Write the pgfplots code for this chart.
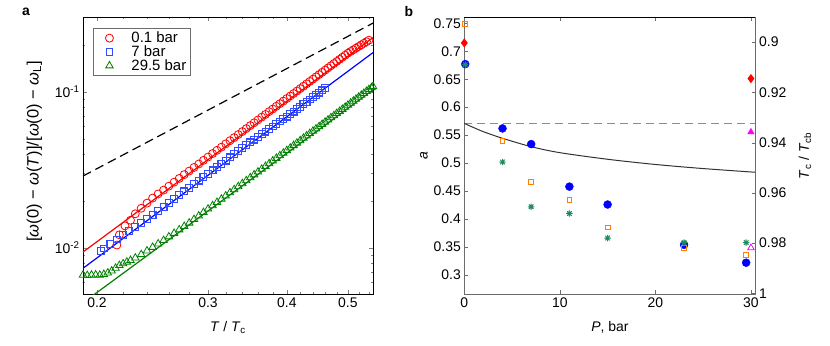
\documentclass[border=0pt]{standalone}
\usepackage{pgfplots}
\pgfplotsset{compat=1.18}
\usepackage{fontspec}
\setmainfont{Liberation Sans}

\definecolor{mgreen}{rgb}{0,0.5,0}
\definecolor{mblue}{rgb}{0,0,1}
\definecolor{sqblue}{rgb}{0.2,0.3,1}
\definecolor{morange}{rgb}{1,0.5,0}
\definecolor{mteal}{rgb}{0.12,0.54,0.36}
\definecolor{mmag}{rgb}{1,0,1}
\definecolor{axgray}{gray}{0.42}

\newcommand{\tfont}{\fontsize{14}{16}\selectfont}

% eight-armed asterisk, as in the source figure
\pgfdeclareplotmark{ast8}{%
  \pgfpathmoveto{\pgfqpoint{-\pgfplotmarksize}{0pt}}\pgfpathlineto{\pgfqpoint{\pgfplotmarksize}{0pt}}%
  \pgfpathmoveto{\pgfqpoint{0pt}{-\pgfplotmarksize}}\pgfpathlineto{\pgfqpoint{0pt}{\pgfplotmarksize}}%
  \pgfpathmoveto{\pgfqpoint{-.707\pgfplotmarksize}{-.707\pgfplotmarksize}}\pgfpathlineto{\pgfqpoint{.707\pgfplotmarksize}{.707\pgfplotmarksize}}%
  \pgfpathmoveto{\pgfqpoint{-.707\pgfplotmarksize}{.707\pgfplotmarksize}}\pgfpathlineto{\pgfqpoint{.707\pgfplotmarksize}{-.707\pgfplotmarksize}}%
  \pgfusepathqstroke}

\pgfplotsset{
  every axis/.append style={
    scale only axis,
    tick label style={font=\tfont},
    label style={font=\tfont},
    /pgf/number format/assume math mode=true,
    tick align=inside,
    major tick length=4bp,
    minor tick length=2.2bp,
  },
}

\begin{document}
\begin{tikzpicture}
\useasboundingbox (0,0) rectangle (830bp,346bp);

% ---- panel a ----
\begin{axis}[
  at={(83bp,52bp)}, anchor=south west,
  width=290bp, height=277bp,
  xmode=log, ymode=log,
  xmin=0.19, xmax=0.548, ymin=0.00505, ymax=0.301,
  xtick={0.2,0.3,0.4,0.5}, xticklabels={0.2,0.3,0.4,0.5},
  minor xtick={0.22,0.24,0.26,0.28,0.32,0.34,0.36,0.38,0.42,0.44,0.46,0.48,0.52,0.54},
  ytick={0.01,0.1}, yticklabels={10\textsuperscript{-2},10\textsuperscript{-1}},
  minor ytick={0.006,0.007,0.008,0.009,0.02,0.03,0.04,0.05,0.06,0.07,0.08,0.09,0.2,0.3},
  xtick pos=both, ytick pos=both,
  axis line style={line width=0.8bp},
  xlabel={\textit{T} / \textit{T}\textsubscript{c}},
  ylabel={[\textit{ω}(0) − \textit{ω}(\textit{T})]/[\textit{ω}(0) − \textit{ω}\textsubscript{L}]},
  xlabel style={at={(axis description cs:0.5,-0.121)}, anchor=center},
  ylabel style={at={(axis description cs:-0.168,0.515)}, anchor=center, font=\fontsize{16.5}{18}\selectfont},
  legend style={at={(rel axis cs:0.0345,0.962)}, anchor=north west,
    draw=axgray, line width=0.9bp, font=\fontsize{15}{15}\selectfont,
    inner xsep=2bp, inner ysep=2bp, row sep=-2.5bp, legend cell align=left},
  legend image code/.code={%
    \path[draw=none, fill=none] (0bp,-3bp) rectangle (34bp,3bp);
    \path[draw=none, mark repeat=2, mark phase=2] plot coordinates {(0bp,0bp) (14bp,0bp) (28bp,0bp)};},
]
\addplot[only marks, mark=o, red, mark size=4bp, mark options={draw=red, line width=0.8bp}] coordinates {
(0.215,0.0104)(0.217,0.0121)(0.2215,0.0138)(0.226,0.0150)(0.230,0.0165)(0.235,0.0179)(0.240,0.0193)
(0.245,0.0208)(0.250,0.0221)(0.255,0.0234)(0.260,0.0248)(0.265,0.0263)(0.270,0.0278)(0.275,0.0294)
(0.280,0.0310)(0.285,0.0327)(0.290,0.0344)(0.295,0.0363)(0.300,0.0381)(0.305,0.0401)(0.310,0.0421)
(0.315,0.0441)(0.320,0.0463)(0.325,0.0485)(0.330,0.0508)(0.335,0.0531)(0.340,0.0555)(0.345,0.0580)
(0.350,0.0606)(0.355,0.0632)(0.360,0.0659)(0.365,0.0687)(0.370,0.0715)(0.375,0.0745)(0.380,0.0775)
(0.385,0.0806)(0.390,0.0838)(0.395,0.0870)(0.400,0.0904)(0.405,0.0938)(0.410,0.0973)(0.415,0.1009)
(0.420,0.1046)(0.425,0.1084)(0.430,0.1123)(0.435,0.1163)(0.440,0.1203)(0.445,0.1245)(0.450,0.1287)
(0.455,0.1330)(0.460,0.1375)(0.465,0.1420)(0.470,0.1466)(0.475,0.1514)(0.480,0.1562)(0.485,0.1611)
(0.490,0.1662)(0.495,0.1713)(0.500,0.1765)(0.505,0.1810)(0.510,0.1855)(0.515,0.1901)(0.520,0.1948)
(0.525,0.1995)(0.530,0.2042)(0.535,0.2090)(0.540,0.2138)};
\addlegendentry{0.1 bar}
\addplot[only marks, mark=square, sqblue, mark size=3.4bp, mark options={draw=sqblue, line width=1.1bp}] coordinates {
(0.2027,0.00955)(0.205,0.00988)(0.210,0.01057)(0.215,0.01129)(0.220,0.01204)(0.225,0.01282)
(0.230,0.01363)(0.235,0.01446)(0.240,0.01533)(0.245,0.01623)(0.250,0.01724)(0.255,0.01830)
(0.260,0.01940)(0.265,0.02054)(0.270,0.02172)(0.275,0.02295)(0.280,0.02423)(0.285,0.02555)
(0.290,0.02692)(0.295,0.02833)(0.300,0.02980)(0.305,0.03131)(0.310,0.03288)(0.315,0.03450)
(0.320,0.03616)(0.325,0.03789)(0.330,0.03966)(0.335,0.04149)(0.340,0.04338)(0.345,0.04532)
(0.350,0.04732)(0.355,0.04928)(0.360,0.05129)(0.365,0.05335)(0.370,0.05546)(0.375,0.05763)
(0.380,0.05985)(0.385,0.06212)(0.390,0.06444)(0.395,0.06682)(0.400,0.06925)(0.405,0.07188)
(0.410,0.07457)(0.415,0.07733)(0.420,0.08016)(0.425,0.08306)(0.430,0.08603)(0.435,0.08906)
(0.440,0.09217)(0.445,0.09535)(0.450,0.09860)(0.455,0.1019)(0.460,0.1053)};
\addlegendentry{7 bar}
\addplot[only marks, mark=triangle, mgreen, mark size=4.3bp, mark options={draw=mgreen, line width=0.8bp}] coordinates {
(0.190,0.00668)(0.193,0.00665)(0.196,0.00668)(0.199,0.00670)(0.202,0.00668)(0.205,0.00675)
(0.208,0.0069)(0.211,0.0071)(0.214,0.0074)(0.217,0.0077)(0.220,0.0079)(0.223,0.0081)(0.226,0.0083)
(0.230,0.0086)(0.235,0.00905)(0.240,0.00955)(0.245,0.01007)(0.250,0.01060)(0.255,0.01114)
(0.260,0.01176)(0.265,0.01238)(0.270,0.01304)(0.275,0.01371)(0.280,0.01440)(0.285,0.01519)
(0.290,0.01600)(0.295,0.01684)(0.300,0.01772)(0.305,0.01862)(0.310,0.01955)(0.315,0.02051)
(0.320,0.02150)(0.325,0.02252)(0.330,0.02358)(0.335,0.02467)(0.340,0.02579)(0.345,0.02694)
(0.350,0.02813)(0.355,0.02935)(0.360,0.03061)(0.365,0.03190)(0.370,0.03323)(0.375,0.03460)
(0.380,0.03600)(0.385,0.03744)(0.390,0.03892)(0.395,0.04044)(0.400,0.04199)(0.405,0.04359)
(0.410,0.04522)(0.415,0.04689)(0.420,0.04861)(0.425,0.05037)(0.430,0.05217)(0.435,0.05401)
(0.440,0.05589)(0.445,0.05782)(0.450,0.05979)(0.455,0.06180)(0.460,0.06386)(0.465,0.06597)
(0.470,0.06812)(0.475,0.07032)(0.480,0.07256)(0.485,0.07485)(0.490,0.07719)(0.495,0.07958)
(0.500,0.08201)(0.505,0.08450)(0.510,0.08703)(0.515,0.08962)(0.520,0.09225)(0.525,0.09494)
(0.530,0.09768)(0.535,0.1005)(0.540,0.1033)(0.545,0.1062)(0.548,0.1080)};
\addlegendentry{29.5 bar}
% fitted lines
\addplot[red, line width=1.2bp, forget plot] coordinates {(0.19,0.00938)(0.548,0.222)};
\addplot[mblue, line width=1.2bp, forget plot] coordinates {(0.19,0.00738)(0.548,0.178)};
\addplot[mgreen, line width=1.2bp, forget plot] coordinates {(0.19,0.00444)(0.548,0.1026)};
\addplot[black, line width=1.2bp, dash pattern=on 9bp off 5bp, forget plot] coordinates {(0.19,0.0288)(0.548,0.275)};
\end{axis}

% ---- panel b, left axis ----
\begin{axis}[
  at={(464.3bp,51.7bp)}, anchor=south west,
  width=291.4bp, height=277bp,
  xmin=0, xmax=30.5, ymin=0.2655, ymax=0.7607,
  xtick={0,10,20,30},
  ytick={0.3,0.35,0.4,0.45,0.5,0.55,0.6,0.65,0.7,0.75},
  yticklabel style={/pgf/number format/fixed, /pgf/number format/precision=2},
  xtick pos=both, ytick pos=left,
  clip=false,
  axis line style={axgray, line width=1.1bp},
  tick style={axgray},
  xlabel={\textit{P}, bar},
  xlabel style={at={(axis description cs:0.5,-0.121)}, anchor=center},
]
\addplot[gray!90, line width=1.1bp, dash pattern=on 8bp off 5bp] coordinates {(0,0.571)(30.5,0.571)};
\addplot[black!80, line width=1bp, smooth] coordinates {
(0,0.571)(1,0.5634)(2,0.5562)(4,0.5444)(7,0.5294)(10,0.5187)(15,0.5069)(20,0.4976)(25,0.4903)(30.5,0.4836)};
\addplot[only marks, mark=*, mblue, mark size=4bp, mark options={draw=mblue, fill=mblue}] coordinates {
(0.1,0.677)(4,0.562)(7,0.534)(11,0.458)(15,0.426)(23,0.354)(29.5,0.322)};
\addplot[only marks, mark=square, morange, mark size=2.4bp, mark options={draw=morange, line width=0.9bp}] coordinates {
(0.1,0.749)(4,0.539)(7,0.466)(11,0.434)(15,0.385)(23,0.348)(29.5,0.336)};
\addplot[only marks, mark=ast8, mteal, mark size=3.2bp, mark options={draw=mteal, line width=1bp}] coordinates {
(0.1,0.676)(4,0.502)(7,0.422)(11,0.410)(15,0.366)(23,0.358)(29.5,0.358)};
\draw[black, line width=0.6bp] (rel axis cs:0,1) -- (rel axis cs:1,1);
\end{axis}

% ---- panel b, right axis ----
\begin{axis}[
  at={(464.3bp,51.7bp)}, anchor=south west,
  width=291.4bp, height=277bp,
  xmin=0, xmax=30.5, ymin=0.8901, ymax=1.0004,
  y dir=reverse,
  axis x line=none, axis y line*=right,
  ytick={0.9,0.92,0.94,0.96,0.98,1},
  yticklabel style={/pgf/number format/fixed, /pgf/number format/precision=2},
  clip=false,
  axis line style={axgray, line width=1.1bp, -},
  tick style={axgray},
  ylabel={\textit{T}\textsubscript{c} / \textit{T}\textsubscript{cb}},
  ylabel style={at={(axis description cs:1.169,0.5)}, anchor=center},
]
\addplot[only marks, mark=diamond*, red, mark size=4.2bp, mark options={draw=red, fill=red}] coordinates {(0,0.9003)(30,0.9145)};
\addplot[only marks, mark=triangle*, mmag, mark size=3.8bp, mark options={draw=mmag, fill=mmag}] coordinates {(30,0.9358)};
\addplot[only marks, mark=triangle, mmag, mark size=3.8bp, mark options={draw=mmag, line width=0.8bp}] coordinates {(30,0.9819)};
\end{axis}

\node[font=\tfont, rotate=90] at (424bp,190bp) {\textit{a}};
\node[font=\bfseries\fontsize{14}{16}\selectfont] at (26bp,334bp) {a};
\node[font=\bfseries\fontsize{14}{16}\selectfont] at (409bp,334bp) {b};
\end{tikzpicture}
\end{document}
